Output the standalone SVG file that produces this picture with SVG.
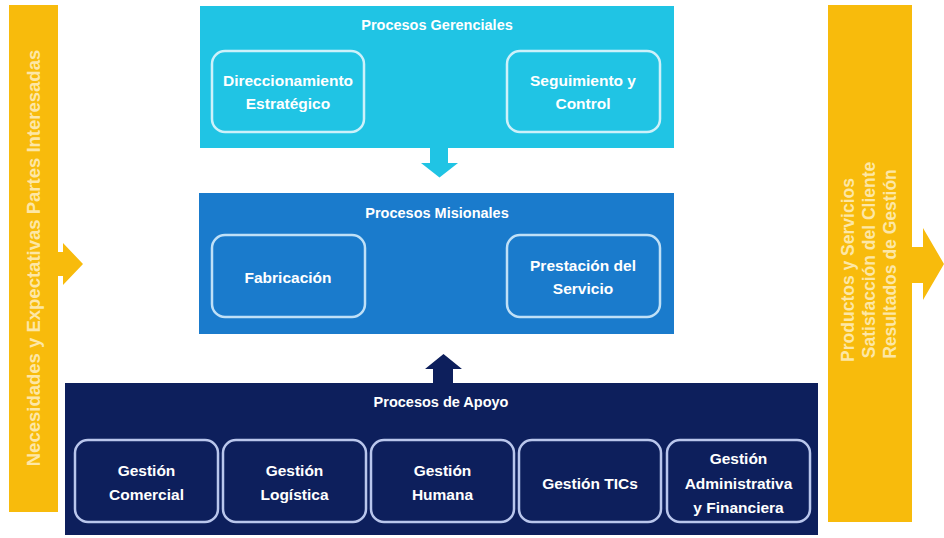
<svg xmlns="http://www.w3.org/2000/svg" width="944" height="538" viewBox="0 0 944 538">
  <style>
    text { font-family: "Liberation Sans", Arial, sans-serif; font-weight: bold; text-anchor: middle; }
    .title { font-size: 14.5px; fill: #ffffff; }
    .label { font-size: 15.5px; fill: #ffffff; }
    .side { font-size: 17.5px; fill: #fde7a6; }
    .inner { fill: none; stroke-width: 2.5; }
    .ger { fill: #20c4e4; }
    .mis { fill: #1a7bcc; }
    .apo { fill: #0d1f5c; }
    .yel { fill: #f8bb0c; }
  </style>
  <rect width="944" height="538" fill="#ffffff"/>

  <g id="entradas">
    <rect class="yel" x="9" y="5" width="49" height="507"/>
    <polygon class="yel" points="58,252 63,252 63,243 83,264 63,285 63,276 58,276"/>
    <text class="side" style="font-size:18.5px" transform="translate(40,258) rotate(-90)" x="0" y="0">Necesidades y Expectativas Partes Interesadas</text>
  </g>

  <g id="salidas">
    <rect class="yel" x="828" y="5" width="84" height="517"/>
    <polygon class="yel" points="912,247 923,247 923,228 944,264 923,300 923,283 912,283"/>
    <text class="side" transform="translate(854,270) rotate(-90)" x="0" y="0">Productos y Servicios</text>
    <text class="side" transform="translate(875,260) rotate(-90)" x="0" y="0">Satisfacción del Cliente</text>
    <text class="side" transform="translate(896,264) rotate(-90)" x="0" y="0">Resultados de Gestión</text>
  </g>

  <g id="procesos-gerenciales">
    <rect class="ger" x="200" y="6" width="474" height="142"/>
    <text class="title" x="437" y="30">Procesos Gerenciales</text>
  </g>
  <g id="direccionamiento">
    <rect class="inner" x="212" y="51" width="152" height="81" rx="13" stroke="#cdf1fa"/>
    <text class="label" x="288" y="85.5">Direccionamiento</text>
    <text class="label" x="288" y="108.5">Estratégico</text>
  </g>
  <g id="seguimiento">
    <rect class="inner" x="507" y="51" width="153" height="81" rx="13" stroke="#cdf1fa"/>
    <text class="label" x="583" y="85.5">Seguimiento y</text>
    <text class="label" x="583" y="108.5">Control</text>
  </g>

  <g id="procesos-misionales">
    <rect class="mis" x="199" y="193" width="475" height="141"/>
    <text class="title" x="437" y="218">Procesos Misionales</text>
  </g>
  <g id="fabricacion">
    <rect class="inner" x="212" y="235" width="153" height="82" rx="13" stroke="#bfe0f7"/>
    <text class="label" x="288" y="282.5">Fabricación</text>
  </g>
  <g id="prestacion">
    <rect class="inner" x="507" y="235" width="153" height="82" rx="13" stroke="#bfe0f7"/>
    <text class="label" x="583" y="270.5">Prestación del</text>
    <text class="label" x="583" y="293.5">Servicio</text>
  </g>

  <g id="procesos-apoyo">
    <rect class="apo" x="65" y="383" width="753" height="152"/>
    <text class="title" x="441" y="407">Procesos de Apoyo</text>
  </g>
  <g id="gestion-comercial">
    <rect class="inner" x="75" y="440" width="143" height="82" rx="13" stroke="#b9c6ec"/>
    <text class="label" x="146.5" y="475.5">Gestión</text>
    <text class="label" x="146.5" y="499.5">Comercial</text>
  </g>
  <g id="gestion-logistica">
    <rect class="inner" x="223" y="440" width="143" height="82" rx="13" stroke="#b9c6ec"/>
    <text class="label" x="294.5" y="475.5">Gestión</text>
    <text class="label" x="294.5" y="499.5">Logística</text>
  </g>
  <g id="gestion-humana">
    <rect class="inner" x="371" y="440" width="143" height="82" rx="13" stroke="#b9c6ec"/>
    <text class="label" x="442.5" y="475.5">Gestión</text>
    <text class="label" x="442.5" y="499.5">Humana</text>
  </g>
  <g id="gestion-tics">
    <rect class="inner" x="519" y="440" width="142" height="82" rx="13" stroke="#b9c6ec"/>
    <text class="label" x="590" y="488.5">Gestión TICs</text>
  </g>
  <g id="gestion-administrativa">
    <rect class="inner" x="667" y="440" width="143" height="82" rx="13" stroke="#b9c6ec"/>
    <text class="label" x="738.5" y="463.5">Gestión</text>
    <text class="label" x="738.5" y="488.5">Administrativa</text>
    <text class="label" x="738.5" y="512.5">y Financiera</text>
  </g>

  <g id="connectors">
    <polygon class="ger" points="430,147 448,147 448,163 458,163 439.5,177.5 421,163 430,163"/>
    <polygon class="apo" points="433,384 453,384 453,369 462,369 443.5,354 425,369 433,369"/>
  </g>
</svg>
